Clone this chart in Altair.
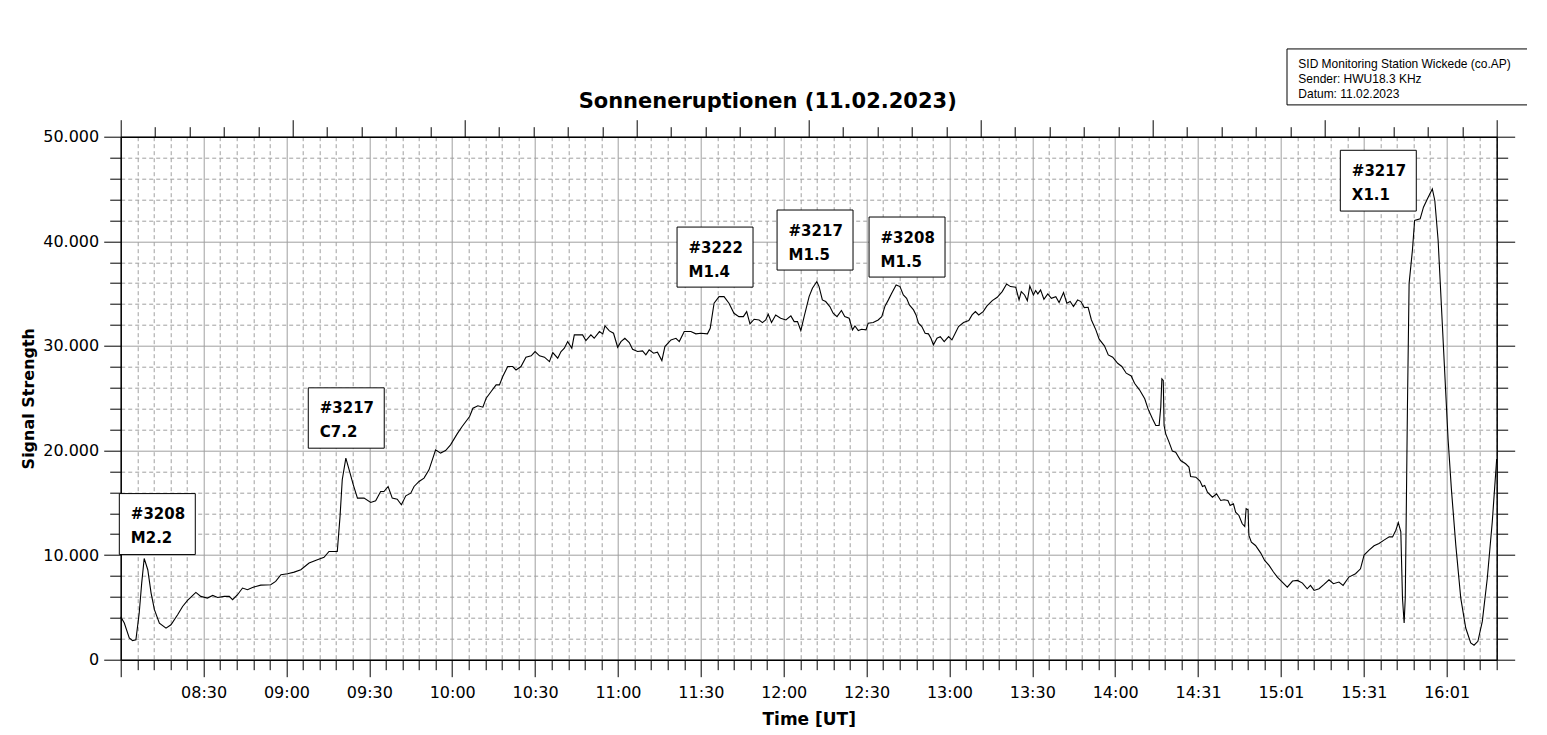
import altair as alt
import pandas as pd

# ---------------- data ----------------
# minutes after 08:00 UT (axis units) and signal strength
minutes = [
    0, 1.3, 3.1, 4.3, 5.5, 6.7, 7.6, 8.5, 9.8, 11.0, 12.2, 14.0, 16.4, 18.2, 20.6, 22.4, 24.2, 27.2, 29.0,
    31.4, 33.3, 35.1, 37.5, 39.3, 40.5, 42.3, 44.1, 45.9, 47.7, 50.7, 54.3, 56.1, 58.0, 60.4, 62.8, 65.2,
    68.2, 71.2, 73.6, 75.4, 78.4, 79.4, 80.2, 81.5, 82.7, 84.2, 85.7, 88.1, 90.5, 92.3, 94.1, 95.3, 96.8,
    98.3, 100.1, 101.6, 103.2, 105.0, 106.2, 108.0, 109.8, 111.6, 114.0, 115.8, 117.6, 119.4, 121.8, 123.6,
    126.3, 127.5, 129.3, 131.1, 132.3, 134.1, 135.9, 137.1, 138.3, 140.1, 141.9, 143.1, 144.9, 146.7, 148.6,
    150.0, 151.6, 153.4, 155.2, 156.4, 158.2, 159.4, 160.6, 161.8, 163.3, 164.2, 166.0, 167.2, 168.4, 170.2,
    171.4, 173.3, 174.5, 175.3, 176.9, 178.4, 179.9, 181.1, 182.5, 184.1, 185.3, 187.1, 188.9, 190.1, 191.3,
    192.9, 194.3, 195.9, 197.0, 199.2, 201.0, 202.2, 204.0, 206.4, 208.2, 210.0, 212.4, 213.4, 214.8, 216.6,
    218.4, 220.2, 222.0, 223.8, 225.4, 226.6, 227.8, 229.3, 231.1, 232.3, 233.5, 234.4, 235.6, 237.1, 238.9,
    240.8, 242.6, 243.8, 245.0, 246.2, 247.4, 249.2, 250.4, 252.0,
    252.8, 254.0, 255.2, 256.7, 257.9, 259.3, 260.9, 262.1, 263.7, 264.9, 265.8, 267.0, 268.2, 269.8, 270.6,
    272.4, 274.2, 275.5, 276.7, 277.9, 279.1, 280.7, 282.1, 283.3, 284.5, 285.5, 287.0, 287.9, 288.8, 290.0,
    291.2, 292.4, 293.3, 294.2, 295.5, 296.7, 298.1, 299.7, 300.9, 302.1, 303.3, 305.1, 307.0, 308.2, 309.4,
    310.6, 312.2, 313.6, 315.5, 317.3, 319.1, 320.7, 322.1, 324.0, 325.2, 326.0, 327.2, 328.2, 329.1, 330.4,
    331.2, 332.0, 333.0, 334.2, 335.6, 336.9, 338.5, 339.7, 341.3, 342.5, 343.7, 344.9, 346.4, 347.6, 348.8,
    350.2, 351.4, 353.0, 354.2, 356.1, 357.5, 359.1, 360.9, 362.4, 364.0, 365.8, 367.0, 368.8,
    370.7, 371.9, 373.5, 374.7, 375.9, 376.5, 376.9, 377.4, 377.7, 378.3, 379.5, 380.7, 381.9, 383.7, 385.5,
    386.7, 387.3, 389.2, 390.7, 391.6, 392.4, 393.4, 395.2, 396.7, 398.2, 399.4, 400.8, 401.6, 402.8, 403.6,
    404.8, 406.0, 406.9, 407.4, 408.1, 408.4, 409.3, 410.8, 412.7, 414.1, 415.7, 417.3, 418.7, 420.5, 422.3,
    424.2, 426.0, 427.8, 429.5, 430.7, 432.0, 433.8, 435.6, 437.4, 439.0, 441.0, 442.5, 444.6, 447.0, 448.8,
    450.1, 451.9, 453.7, 455.5, 457.3, 459.2, 460.4, 461.6, 462.5, 463.4, 464.0, 464.6, 465.0, 465.4, 465.8,
    466.4, 467.6, 468.4, 470.4, 471.6, 473.0, 474.8, 475.7, 476.9, 478.1, 479.3, 480.5, 481.7, 483.3, 485.1,
    486.9, 488.7, 489.9, 491.3, 492.9, 494.7, 496.5, 498.1,
]
signal = [
    4100, 3500, 2070, 1820, 1910, 4460, 7320, 9680, 8600, 6370, 4780, 3500, 3020, 3340, 4300, 5090, 5670, 6430, 6050,
    5890, 6140, 5950, 6050, 6050, 5730, 6210, 6850, 6690, 6910, 7130, 7170, 7480, 8120, 8220, 8370, 8600,
    9240, 9560, 9780, 10350, 10350, 13700, 17200, 19270, 18150, 16720, 15450, 15450, 15030, 15190, 16080, 16080, 16560,
    15450, 15350, 14810, 15670, 15920, 16560, 17040, 17360, 18150, 20060, 19750, 20000, 20540, 21590, 22290,
    23250, 24040, 24270, 24140, 25000, 25640, 26270, 26270, 27070, 28030, 28030, 27700, 28030, 28920, 29050,
    29460, 29050, 28920, 28500, 29360, 28820, 29460, 29780, 30410, 29780, 31050, 31050, 31050, 30510, 31050,
    30730, 31370, 31150, 31910, 31430, 31210, 29870, 30410, 30730, 30320, 29680, 29460, 29520, 29140, 29620,
    29300, 29400, 28600, 29940, 30570, 30730, 30410, 31370, 31370, 31150, 31210, 31150, 31690, 34080, 34710,
    34710, 34080, 33120, 32800, 32800, 33280, 32100, 32550, 32480, 32230, 32480, 33030, 32230, 32960, 32640,
    32480, 32870, 32320, 32320, 31470, 32800, 34710, 35510, 36150,
    35670, 34400, 34240, 33760, 33120, 32800, 33380, 32800, 32640, 31530, 31910, 31470, 31590, 31530, 32170,
    32230, 32480, 32800, 33820, 34400, 35030, 35830, 35670, 34870, 34550, 33920, 33440, 32960, 32170, 31850,
    31210, 31150, 30730, 30100, 30730, 30890, 30410, 30890, 30570, 31210, 31850, 32230, 32420, 32960, 33280,
    32960, 33280, 33820, 34330, 34650, 35190, 35920, 35670, 35610, 34400, 35190, 34870, 34330, 35730, 34870,
    35290, 34970, 35350, 34460, 34970, 34550, 34710, 34140, 35100, 34080, 34240, 33760, 34400, 34240, 33660,
    33690, 32480, 31530, 30640, 30000, 29140, 28920, 28340, 28030, 27390, 27130, 26430, 25800,
    24940, 23980, 23030, 22390, 22390, 24140, 26850, 26690, 22390, 21590, 20800, 19940, 19840, 19040, 18730,
    18410, 17520, 17450, 17070, 16560, 16660, 16020, 15540, 15860, 15220, 15290, 15220, 14750, 14900, 14110,
    13790, 12990, 12740, 14430, 14330, 11880, 11240, 10920, 10190, 9490, 9010, 8380, 7900, 7420, 6940,
    7520, 7580, 7320, 6780, 7100, 6620, 6780, 7200, 7640, 7260, 7420, 7100, 7900, 8220, 8690,
    10000, 10480, 10890, 11110, 11430, 11740, 11740, 12380, 13100, 12220, 5880, 3500, 5880, 14750, 24260,
    35980, 39150, 42000, 42150, 43260, 44050, 45000, 43900, 40100, 33760, 27420, 21100, 16330, 10950, 5880,
    3030, 1600, 1380, 1760, 3660, 7780, 13170, 19190,
]

# x tick labels, one per 30 axis minutes (first tick unlabeled)
tick_labels = ["", "08:30", "09:00", "09:30", "10:00", "10:30", "11:00", "11:30", "12:00",
               "12:30", "13:00", "13:30", "14:00", "14:31", "15:01", "15:31", "16:01"]

# flare annotation boxes (data coordinates)
ann_region = ["#3208", "#3217", "#3222", "#3217", "#3208", "#3217"]
ann_class = ["M2.2", "C7.2", "M1.4", "M1.5", "M1.5", "X1.1"]
ann_x0 = [-0.5, 67.9, 201.4, 237.6, 270.9, 441.5]
ann_x1 = [27.0, 95.4, 228.9, 265.1, 298.4, 469.0]
ann_top = [15880, 25990, 41360, 42990, 42320, 48700]
ann_bottom = [10050, 20220, 35620, 37250, 36580, 42890]

# station info box
info_text = ["SID Monitoring Station Wickede (co.AP)", "Sender: HWU18.3 KHz", "Datum: 11.02.2023"]
info_x0, info_x1 = [422.2], [509.5]
info_top, info_bottom = [58390], [53040]

X_MAX = 498.1
Y_MAX = 50000

# ---------------- chart ----------------
FONT = "DejaVu Sans"
GRID = "#a0a0a0"

line_df = pd.DataFrame({"t": minutes, "v": signal})
ann_df = pd.DataFrame({"region": ann_region, "cls": ann_class, "x0": ann_x0, "x1": ann_x1,
                       "top": ann_top, "bottom": ann_bottom})
info_df = pd.DataFrame({"x0": info_x0, "x1": info_x1, "top": info_top, "bottom": info_bottom,
                        "txt": ["\n".join(info_text)]})

xs = alt.Scale(domain=[0, X_MAX], nice=False, zero=False)
ys = alt.Scale(domain=[0, Y_MAX], nice=False)

labels_js = "[" + ",".join(f"'{s}'" for s in tick_labels) + "]"
x_major = "datum.value % 30 === 0"
y_major = "datum.value % 10000 === 0"

x_axis = alt.Axis(
    orient="bottom",
    values=list(range(0, 499, 6)),
    labelExpr=f"{x_major} ? {labels_js}[datum.value / 30] : ''",
    labelOverlap=False, labelFlush=False,
    labelFont=FONT, labelFontSize=16, labelColor="black", labelPadding=8,
    tickSize={"condition": {"test": x_major, "value": 17}, "value": 10},
    tickColor="black", tickWidth=1,
    grid=True, gridColor=GRID, gridWidth=1,
    gridDash={"condition": {"test": x_major, "value": []}, "value": [4, 3]},
    domainColor="black", domainWidth=1.5,
    title="Time [UT]", titleFont=FONT, titleFontSize=17, titleFontWeight="bold",
    titleColor="black", titlePadding=11,
)
y_axis = alt.Axis(
    orient="left",
    values=list(range(0, 50001, 2000)),
    labelExpr=f"{y_major} ? (datum.value === 0 ? '0' : format(datum.value / 1000, 'd') + '.000') : ''",
    labelOverlap=False, labelFlush=False,
    labelFont=FONT, labelFontSize=16, labelColor="black", labelPadding=5,
    tickSize={"condition": {"test": y_major, "value": 17}, "value": 11},
    tickColor="black", tickWidth=1,
    grid=True, gridColor=GRID, gridWidth=1,
    gridDash={"condition": {"test": y_major, "value": []}, "value": [4, 3]},
    domainColor="black", domainWidth=1.5,
    title="Signal Strength", titleFont=FONT, titleFontSize=16, titleFontWeight="bold",
    titleColor="black", titlePadding=6,
)

X = lambda f: alt.X(f, scale=xs, axis=x_axis)
Y = lambda f: alt.Y(f, scale=ys, axis=y_axis)

line = alt.Chart(line_df).mark_line(color="black", strokeWidth=1.1).encode(
    x=X("t:Q"), y=Y("v:Q"),
)

boxes = alt.Chart(ann_df).mark_rect(fill="white", stroke="black", strokeWidth=1).encode(
    x=X("x0:Q"), x2="x1", y=Y("top:Q"), y2="bottom",
)
txt_common = dict(align="left", baseline="alphabetic", font=FONT, fontWeight="bold",
                  fontSize=15, color="black")
region_text = alt.Chart(ann_df).mark_text(dx=11.5, dy=25.6, **txt_common).encode(
    x=X("x0:Q"), y=Y("top:Q"), text="region:N",
)
class_text = alt.Chart(ann_df).mark_text(dx=11.5, dy=49.6, **txt_common).encode(
    x=X("x0:Q"), y=Y("top:Q"), text="cls:N",
)

info_box = alt.Chart(info_df).mark_rect(fill="white", stroke="black", strokeWidth=1, clip=False).encode(
    x=X("x0:Q"), x2="x1", y=Y("top:Q"), y2="bottom",
)
info_label = alt.Chart(info_df).mark_text(
    align="left", baseline="alphabetic", dx=11.3, dy=19.3, lineBreak="\n", lineHeight=15,
    font="Liberation Sans", fontSize=12, color="black",
).encode(
    x=X("x0:Q"), y=Y("top:Q"), text="txt:N",
)

main = alt.layer(line, boxes, region_text, class_text, info_box, info_label)

# secondary frame axes (top and right), ticks only
top_axis = alt.Axis(
    orient="top", values=list(range(0, 41)), labels=False, grid=False,
    tickSize={"condition": {"test": "datum.value % 5 === 0", "value": 17}, "value": 10},
    tickColor="black", tickWidth=1, domainColor="black", domainWidth=1.5, title=None,
)
right_axis = alt.Axis(
    orient="right", values=list(range(0, 50001, 2000)), labels=False, grid=False,
    tickSize={"condition": {"test": y_major, "value": 18}, "value": 11},
    tickColor="black", tickWidth=1, domainColor="black", domainWidth=1.5, title=None,
)
frame = alt.Chart(pd.DataFrame({"a": [0], "b": [0]})).mark_point(opacity=0).encode(
    x=alt.X("a:Q", scale=alt.Scale(domain=[0, 40], nice=False), axis=top_axis),
    y=alt.Y("b:Q", scale=alt.Scale(domain=[0, Y_MAX], nice=False), axis=right_axis),
)

chart = alt.layer(main, frame).resolve_scale(
    x="independent", y="independent"
).resolve_axis(
    x="independent", y="independent"
).properties(
    width=1376, height=523,
    autosize=alt.AutoSizeParams(type="none"),
    padding={"left": 112.7, "top": 128.7, "right": 30, "bottom": 72},
    title=alt.TitleParams(
        "Sonneneruptionen (11.02.2023)", font=FONT, fontSize=21, fontWeight="bold",
        color="black", anchor="middle", frame="group", offset=10, dx=-41, dy=74,
    ),
    background="white",
).configure_view(stroke=None)

chart.save("out.html", embed_options={"renderer": "svg", "actions": False})
